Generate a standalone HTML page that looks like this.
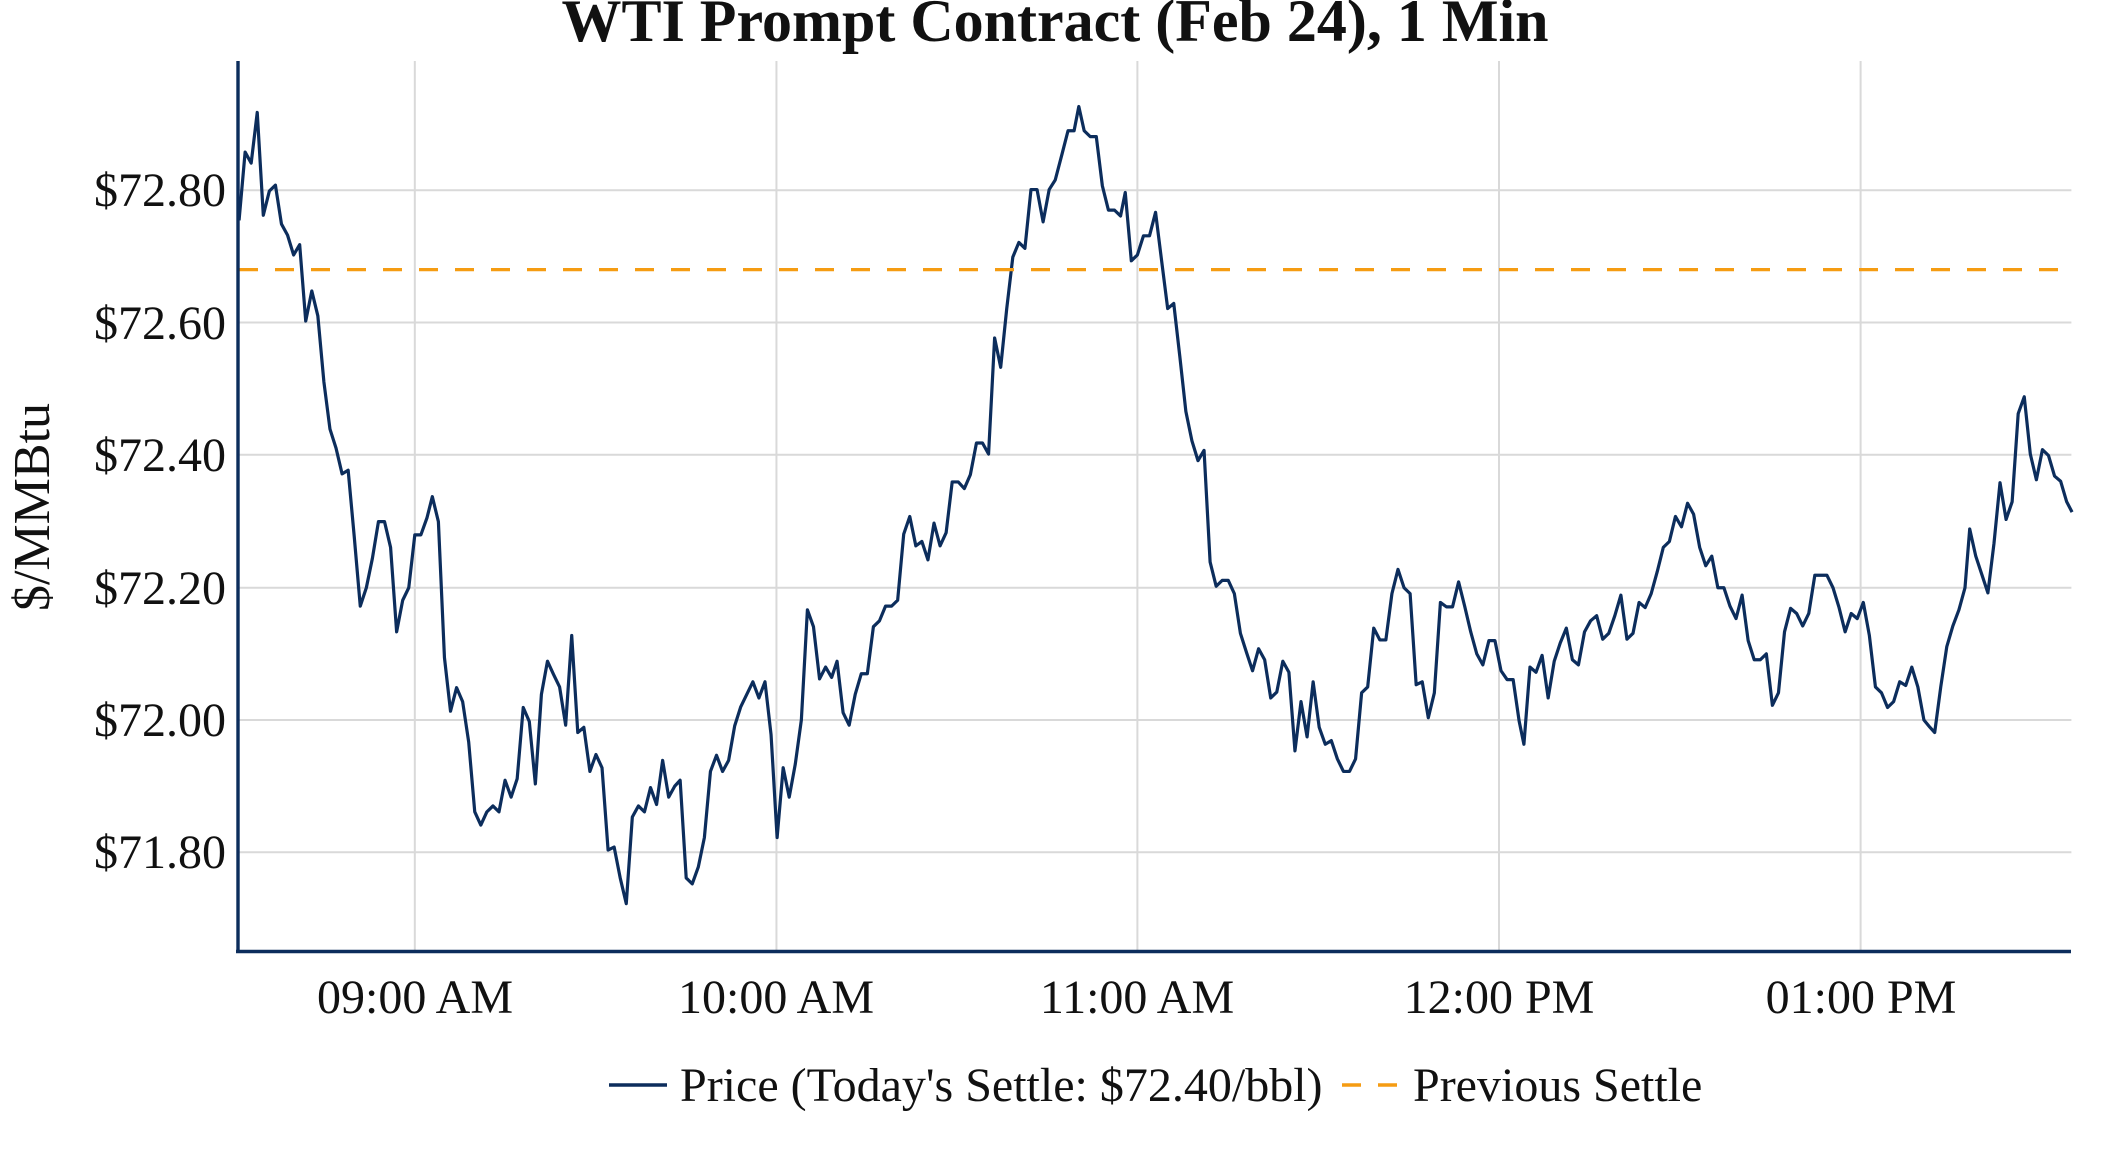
<!DOCTYPE html>
<html><head><meta charset="utf-8"><style>html,body{margin:0;padding:0;background:#fff}svg{display:block;position:absolute;left:0;top:0}</style></head>
<body>
<svg width="2112" height="1152" viewBox="0 0 3136.3 1568" preserveAspectRatio="none" xmlns="http://www.w3.org/2000/svg">
<rect width="3136.3" height="1568" fill="#fff"/>
<g stroke="#d9d9d9" stroke-width="2">
<line vector-effect="non-scaling-stroke" x1="353" x2="3076" y1="259" y2="259"/><line vector-effect="non-scaling-stroke" x1="353" x2="3076" y1="439" y2="439"/><line vector-effect="non-scaling-stroke" x1="353" x2="3076" y1="619" y2="619"/><line vector-effect="non-scaling-stroke" x1="353" x2="3076" y1="800" y2="800"/><line vector-effect="non-scaling-stroke" x1="353" x2="3076" y1="980" y2="980"/><line vector-effect="non-scaling-stroke" x1="353" x2="3076" y1="1160" y2="1160"/>
<line vector-effect="non-scaling-stroke" x1="616" x2="616" y1="83" y2="1295"/><line vector-effect="non-scaling-stroke" x1="1153" x2="1153" y1="83" y2="1295"/><line vector-effect="non-scaling-stroke" x1="1689" x2="1689" y1="83" y2="1295"/><line vector-effect="non-scaling-stroke" x1="2226" x2="2226" y1="83" y2="1295"/><line vector-effect="non-scaling-stroke" x1="2763" x2="2763" y1="83" y2="1295"/>
</g>
<polyline vector-effect="non-scaling-stroke" fill="none" stroke="#0c2d5c" stroke-width="3.2" stroke-linejoin="round" points="355,300 364,207 373,222 382,153 391,293 400,260 409,252 418,305 427,320 436,347 445,333 454,437 463,396 472,430 481,520 490,584 499,610 508,645 517,640 526,730 535,825 544,800 553,760 562,710 571,710 580,745 589,860 598,817 607,800 616,728 625,728 634,705 642,676 651,710 660,895 669,968 678,936 687,955 696,1010 705,1105 714,1123 723,1105 732,1097 741,1105 750,1062 759,1085 768,1060 777,963 786,982 795,1067 804,945 813,900 822,918 831,935 840,987 849,865 858,997 867,990 876,1050 885,1027 894,1045 903,1157 912,1153 921,1195 930,1230 939,1112 948,1097 957,1105 966,1072 975,1095 984,1035 993,1085 1002,1070 1010,1062 1019,1195 1028,1203 1037,1180 1046,1140 1055,1050 1064,1028 1073,1050 1082,1035 1091,988 1100,962 1109,945 1118,928 1127,950 1136,928 1145,1000 1154,1140 1163,1045 1172,1085 1181,1040 1190,980 1199,830 1208,853 1217,924 1226,908 1235,922 1243,900 1252,970 1261,987 1270,945 1279,917 1288,917 1297,853 1306,845 1315,825 1324,825 1333,817 1342,727 1351,703 1360,743 1369,737 1378,762 1387,712 1396,743 1405,725 1414,656 1423,656 1432,665 1441,646 1450,603 1459,603 1468,618 1477,460 1486,500 1495,420 1504,350 1513,330 1522,338 1531,258 1540,258 1549,302 1558,258 1567,245 1577,210 1586,178 1595,178 1602,145 1610,178 1619,186 1628,186 1637,253 1646,286 1655,286 1664,294 1671,262 1680,355 1689,347 1698,321 1707,321 1716,289 1725,355 1734,420 1743,413 1752,485 1761,560 1770,600 1779,627 1788,613 1797,765 1806,798 1815,790 1824,790 1833,808 1842,862 1851,888 1860,913 1869,883 1878,898 1887,950 1896,942 1905,900 1914,915 1923,1022 1932,955 1941,1003 1950,928 1959,990 1968,1013 1977,1008 1986,1033 1995,1050 2004,1050 2013,1033 2022,943 2031,935 2040,855 2049,871 2058,871 2067,808 2076,775 2085,800 2094,808 2103,932 2112,928 2121,977 2130,943 2139,820 2148,826 2157,826 2166,792 2175,825 2184,860 2193,890 2202,905 2211,872 2220,872 2229,913 2238,925 2247,925 2256,982 2263,1013 2272,908 2281,915 2290,892 2299,950 2308,900 2317,875 2326,855 2335,898 2344,905 2353,860 2362,845 2371,838 2380,870 2389,862 2398,838 2407,810 2416,870 2425,862 2434,820 2443,827 2452,808 2461,778 2470,745 2479,737 2488,703 2497,717 2506,685 2515,700 2524,745 2533,770 2542,757 2551,800 2560,800 2569,825 2578,842 2587,810 2596,872 2605,898 2614,898 2623,890 2632,960 2641,943 2650,860 2659,828 2668,835 2677,852 2686,835 2695,783 2704,783 2713,783 2722,800 2731,827 2740,860 2749,835 2758,842 2767,820 2776,865 2785,935 2794,943 2803,963 2812,955 2821,928 2830,933 2839,908 2848,935 2857,980 2866,990 2873,997 2882,935 2891,880 2900,852 2909,830 2918,800 2925,720 2934,757 2943,782 2952,807 2961,740 2970,657 2979,707 2988,683 2997,563 3006,540 3015,618 3024,653 3033,612 3042,620 3051,648 3060,655 3069,683 3077,697"/>
</svg>
<svg width="2112" height="1152" viewBox="0 0 2112 1152" xmlns="http://www.w3.org/2000/svg" font-family="'Liberation Serif', serif">
<line x1="239" x2="2060" y1="269.6" y2="269.6" stroke="#f59c12" stroke-width="3.2" stroke-dasharray="19,17"/>
<g stroke="#0c2d5c" stroke-width="3.4"><line x1="238" x2="238" y1="61" y2="953"/><line x1="236" x2="2071" y1="951.5" y2="951.5"/></g>
<g font-size="48" fill="#111" text-anchor="end">
<text x="226" y="206">$72.80</text><text x="226" y="339">$72.60</text><text x="226" y="471">$72.40</text><text x="226" y="604">$72.20</text><text x="226" y="736">$72.00</text><text x="226" y="868">$71.80</text>
</g>
<g font-size="48" fill="#111" text-anchor="middle">
<text x="415" y="1013">09:00 AM</text><text x="776" y="1013">10:00 AM</text><text x="1137" y="1013">11:00 AM</text><text x="1499" y="1013">12:00 PM</text><text x="1861" y="1013">01:00 PM</text>
</g>
<text transform="translate(49,507) rotate(-90)" font-size="52" text-anchor="middle" fill="#111">$/MMBtu</text>
<text x="1055" y="41" font-size="60" font-weight="bold" text-anchor="middle" fill="#111">WTI Prompt Contract (Feb 24), 1 Min</text>
<line x1="609" x2="667" y1="1085" y2="1085" stroke="#0c2d5c" stroke-width="3.4"/>
<text x="680" y="1101" font-size="48" fill="#111">Price (Today's Settle: $72.40/bbl)</text>
<line x1="1342" x2="1397" y1="1085" y2="1085" stroke="#f59c12" stroke-width="3.4" stroke-dasharray="19,17"/>
<text x="1413" y="1101" font-size="48" fill="#111">Previous Settle</text>
</svg>
</body></html>
